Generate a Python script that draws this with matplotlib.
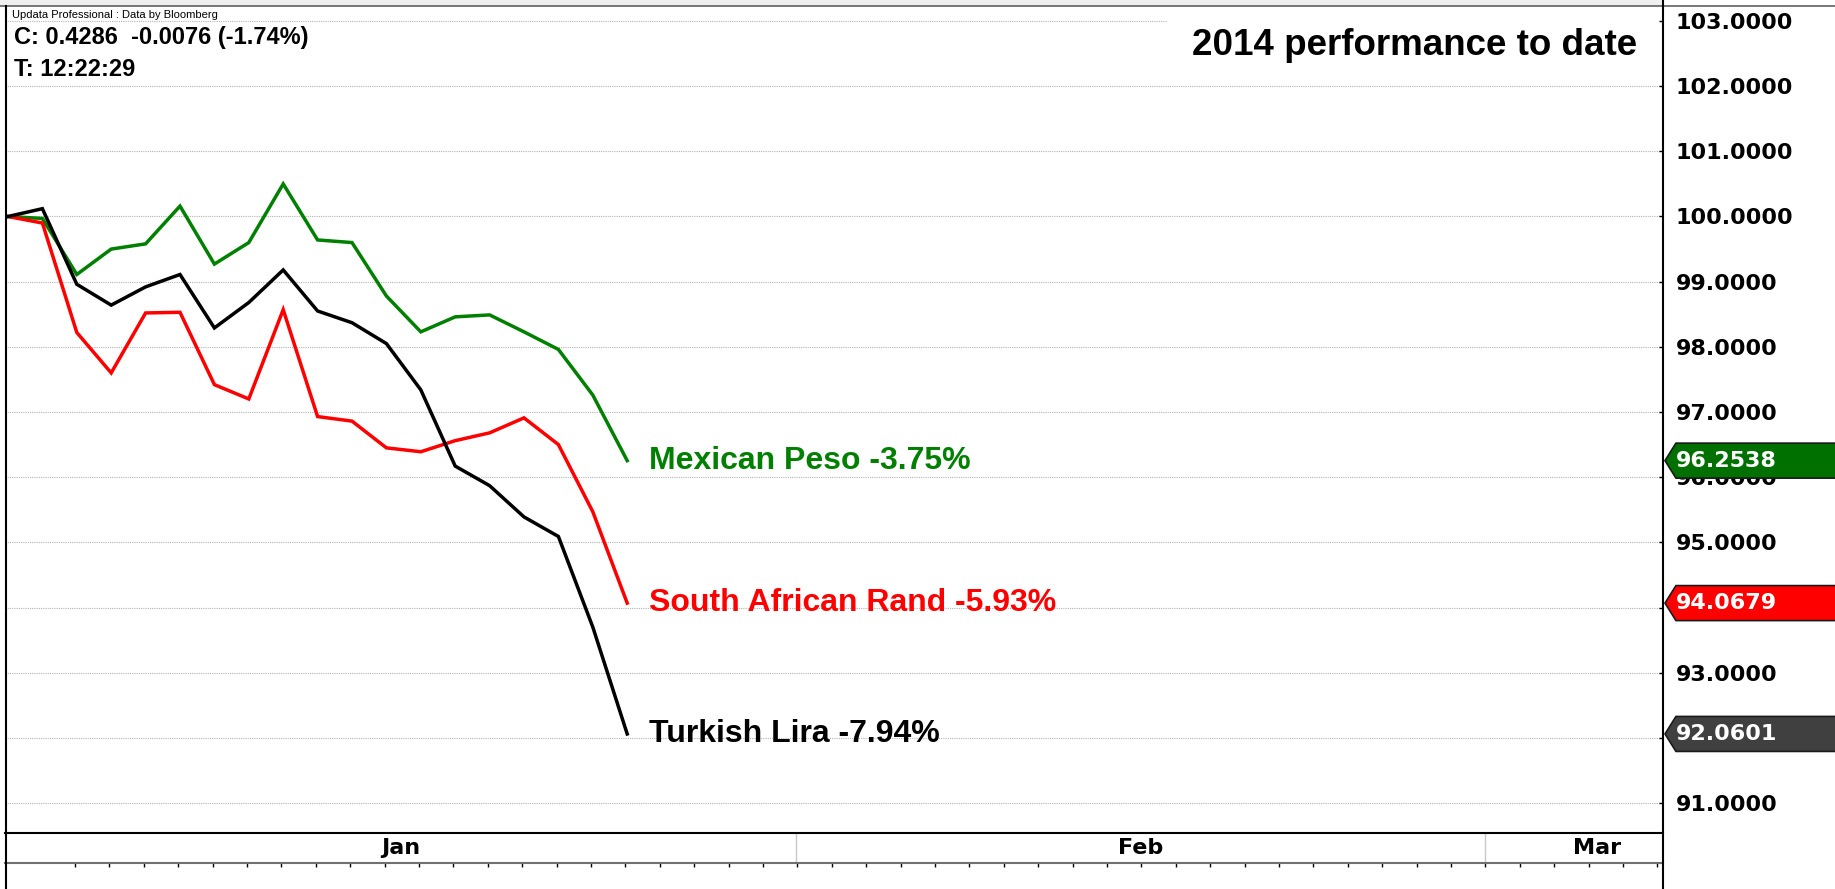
import numpy as np
import matplotlib
matplotlib.use("Agg")
import matplotlib.pyplot as plt
from matplotlib.patches import Polygon, Rectangle
from matplotlib.lines import Line2D
import matplotlib.transforms as mtransforms

# data: index of each value, rebased to 100 at start of 2014
days = np.arange(19)
mexican_peso = [100.0, 99.97, 99.11, 99.50, 99.58, 100.16, 99.27, 99.60, 100.50, 99.64,
                99.60, 98.78, 98.23, 98.46, 98.49, 98.23, 97.96, 97.26, 96.2538]
south_african_rand = [100.0, 99.90, 98.22, 97.60, 98.52, 98.53, 97.42, 97.20, 98.57, 96.93,
                      96.86, 96.45, 96.39, 96.56, 96.68, 96.91, 96.50, 95.47, 94.0679]
turkish_lira = [100.0, 100.12, 98.96, 98.64, 98.92, 99.11, 98.29, 98.68, 99.18, 98.55,
                98.37, 98.05, 97.34, 96.17, 95.87, 95.39, 95.09, 93.70, 92.0601]

series_names = ["Mexican Peso -3.75%", "South African Rand -5.93%", "Turkish Lira -7.94%"]
series_values = [mexican_peso, south_african_rand, turkish_lira]
line_colors = ["#008000", "#ff0000", "#000000"]
badge_colors = ["#007000", "#ff0000", "#404040"]

y_ticks = list(range(91, 104))
hidden_ticks = [92, 94]  # fully covered by the last-value badges
months = ["Jan", "Feb", "Mar"]
month_label_pos = [11.41, 32.93, 46.2]
month_bounds = [22.92, 42.94]

W, H = 1835, 889
fig = plt.figure(figsize=(W / 100, H / 100), dpi=100)

# main chart area in pixels: x 5..1663, y 6..833
ax = fig.add_axes([5 / W, 1 - 833 / H, 1658 / W, 827 / H])
ax.set_xlim(-0.087, 48.11)
ax.set_ylim(90.54, 103.23)
for s in ax.spines.values():
    s.set_visible(False)

# dotted grid
for v in y_ticks:
    xmax = 0.70 if v == 103 else 1.0
    ax.axhline(v, xmax=xmax, color="#b4b4b4", lw=0.8, ls=(0, (1, 1)), zorder=0.5)

for vals, col in zip(series_values, line_colors):
    ax.plot(days, vals, color=col, lw=2.5, zorder=3, solid_joinstyle="miter")

for name, vals, col in zip(series_names, series_values, line_colors):
    ax.text(days[-1] + 0.64, vals[-1], name, color=col, fontsize=23, fontweight="bold",
            family="Liberation Sans", ha="left", va="center", zorder=4)

# right axis labels
ax.yaxis.tick_right()
ax.set_yticks(y_ticks)
ax.set_yticklabels(["" if v in hidden_ticks else f"{v:.4f}" for v in y_ticks])
ax.tick_params(axis="y", direction="in", length=3, width=1, pad=9, labelsize=16, colors="black")
for lbl in ax.get_yticklabels():
    lbl.set_fontweight("bold")
    lbl.set_family("DejaVu Sans")
ax.set_xticks([])

# last value badges
trans = mtransforms.blended_transform_factory(ax.transAxes, ax.transData)
hh = 17.5 / 65.17
x_tip, x_body, x_right = 1.0012, 1.0078, 1.11
for vals, col in zip(series_values, badge_colors):
    v = vals[-1]
    poly = Polygon([(x_tip, v), (x_body, v + hh), (x_right, v + hh), (x_right, v - hh), (x_body, v - hh)],
                   closed=True, transform=trans, facecolor=col, edgecolor="#1a1a1a", lw=1.2,
                   clip_on=False, zorder=5)
    ax.add_patch(poly)
    ax.text(x_body, v, f"{v:.4f}", transform=trans, color="white", fontsize=16, fontweight="bold",
            family="DejaVu Sans", ha="left", va="center", zorder=6, clip_on=False)

# header text
ax.text(0.0043, 0.9889, "Updata Professional : Data by Bloomberg", transform=ax.transAxes,
        fontsize=8, family="Liberation Sans", ha="left", va="center")
ax.text(0.0055, 0.9625, "C: 0.4286  -0.0076 (-1.74%)", transform=ax.transAxes,
        fontsize=17, fontweight="bold", family="Liberation Sans", ha="left", va="center")
ax.text(0.0055, 0.9238, "T: 12:22:29", transform=ax.transAxes,
        fontsize=17, fontweight="bold", family="Liberation Sans", ha="left", va="center")
ax.text(0.9843, 0.9528, "2014 performance to date", transform=ax.transAxes,
        fontsize=26.5, fontweight="bold", family="Liberation Sans", ha="right", va="center")

# month band below the chart
axb = fig.add_axes([5 / W, 1 - 863 / H, 1658 / W, 30 / H])
axb.set_xlim(ax.get_xlim())
axb.set_ylim(0, 1)
axb.set_yticks([])
axb.set_xticks(np.arange(2, 49) - 0.05)
axb.set_xticklabels([])
axb.tick_params(axis="x", direction="out", length=3, width=1, colors="black")
axb.spines["left"].set_visible(False)
axb.spines["right"].set_visible(False)
axb.spines["top"].set_linewidth(1.5)
axb.spines["bottom"].set_linewidth(1.5)
axb.spines["bottom"].set_color("#707070")
for b in month_bounds:
    axb.axvline(b, color="#c8c8c8", lw=1)
for m, p in zip(months, month_label_pos):
    axb.text(p, 0.5, m, fontsize=16, fontweight="bold", family="DejaVu Sans",
             ha="center", va="center")

# frame lines and top strip
fig.patches.append(Rectangle((0, 1 - 6 / H), 1663 / W, 6 / H, transform=fig.transFigure,
                             facecolor="#efefef", edgecolor="none"))
fig.lines.append(Line2D([0, 1], [1 - 6 / H, 1 - 6 / H], transform=fig.transFigure, color="#606060", lw=1.2))
fig.lines.append(Line2D([6 / W, 6 / W], [0, 1 - 6 / H], transform=fig.transFigure, color="black", lw=1.5))
fig.lines.append(Line2D([1663 / W, 1663 / W], [0, 1], transform=fig.transFigure, color="black", lw=1.5))

fig.savefig("out.png", dpi=100)
